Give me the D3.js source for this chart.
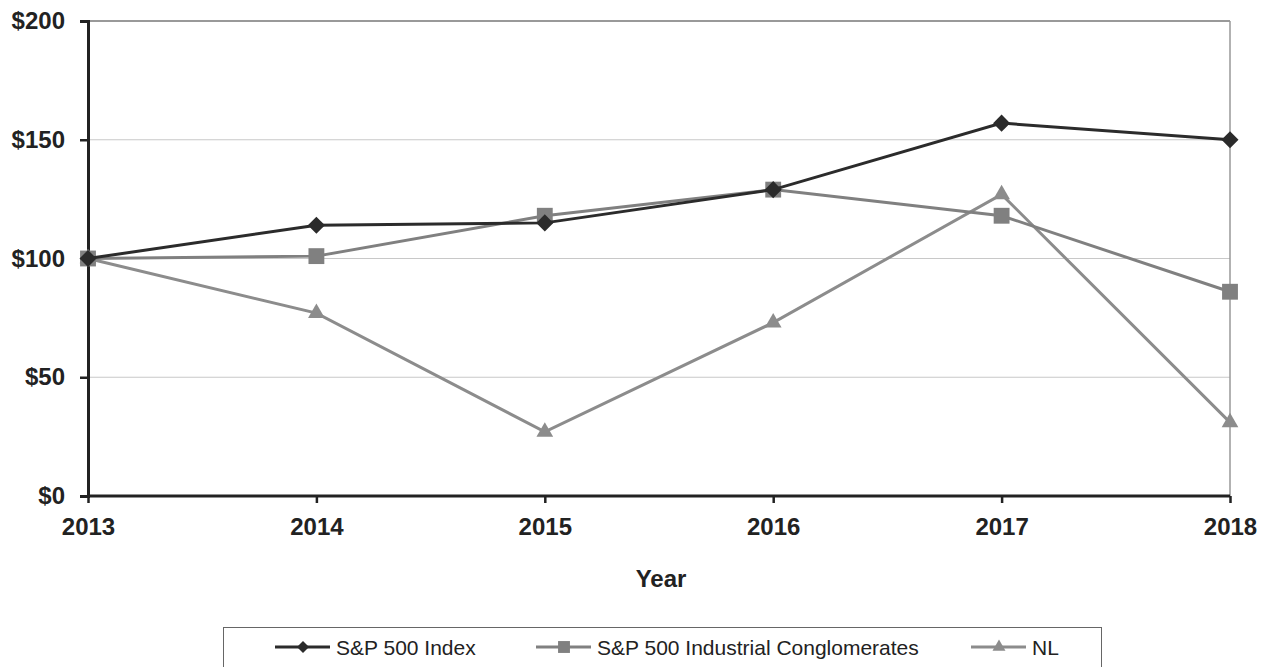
<!DOCTYPE html>
<html>
<head>
<meta charset="utf-8">
<script src="https://cdn.jsdelivr.net/npm/d3@7"></script>
<style>
  body { margin: 0; background: #fff; }
  text { font-family: "Liberation Sans", Arial, sans-serif; }
</style>
</head>
<body>
<div id="chart"></div>
<script>
const years = ["2013", "2014", "2015", "2016", "2017", "2018"];
const sp500 = [100, 114, 115, 129, 157, 150];
const industrial = [100, 101, 118, 129, 118, 86];
const nl = [100, 77, 27, 73, 127, 31];
const yTicks = [0, 50, 100, 150, 200];

const width = 1268;
const height = 667;
const plotLeft = 88, plotRight = 1230, plotTop = 21, plotBottom = 496;

const series = [
  {name: "S&P 500 Index", values: sp500, color: "#2b2b2b", symbol: d3.symbolDiamond2, size: 185, legendSize: 92},
  {name: "S&P 500 Industrial Conglomerates", values: industrial, color: "#808080", symbol: d3.symbolSquare2, size: 320, legendSize: 180},
  {name: "NL", values: nl, color: "#8c8c8c", symbol: d3.symbolTriangle2, size: 200, legendSize: 120}
];

const svg = d3.select("#chart").append("svg")
  .attr("width", width)
  .attr("height", height);

const x = d3.scalePoint().domain(years).range([plotLeft, plotRight]);
const y = d3.scaleLinear().domain([0, 200]).range([plotBottom, plotTop]);

// gridlines
svg.append("g")
  .selectAll("line")
  .data(yTicks.filter(d => d > 0))
  .enter().append("line")
    .attr("x1", plotLeft).attr("x2", plotRight)
    .attr("y1", d => y(d)).attr("y2", d => y(d))
    .attr("stroke", d => d == 200 ? "#777" : "#c8c8c8")
    .attr("stroke-width", d => d == 200 ? 1.5 : 1.2);

// right border
svg.append("line")
  .attr("x1", plotRight).attr("x2", plotRight)
  .attr("y1", plotTop).attr("y2", plotBottom)
  .attr("stroke", "#999").attr("stroke-width", 1.5);

// y axis
const yAxis = svg.append("g")
  .attr("transform", `translate(${plotLeft},0)`)
  .call(d3.axisLeft(y).tickValues(yTicks).tickSize(8).tickPadding(15).tickFormat(d => "$" + d));
yAxis.select(".domain").attr("stroke", "#222").attr("stroke-width", 3);
yAxis.selectAll(".tick line").attr("stroke", "#222").attr("stroke-width", 2.5);
yAxis.selectAll("text")
  .attr("font-size", 24).attr("font-weight", "bold").attr("fill", "#222");

// x axis
const xAxis = svg.append("g")
  .attr("transform", `translate(0,${plotBottom})`)
  .call(d3.axisBottom(x).tickSize(7).tickPadding(15));
xAxis.select(".domain").attr("stroke", "#222").attr("stroke-width", 3).attr("d", `M${plotLeft},0H${plotRight}`);
xAxis.selectAll(".tick line").attr("stroke", "#222").attr("stroke-width", 2.5);
xAxis.selectAll("text")
  .attr("font-size", 24).attr("font-weight", "bold").attr("fill", "#222");

// axis title
svg.append("text")
  .attr("x", (plotLeft + plotRight) / 2 + 2)
  .attr("y", 587)
  .attr("text-anchor", "middle")
  .attr("font-size", 24)
  .attr("font-weight", "bold")
  .attr("fill", "#222")
  .text("Year");

const line = d3.line()
  .x((d, i) => x(years[i]))
  .y(d => y(d));

// draw in reverse so S&P 500 is on top
series.slice().reverse().forEach(s => {
  svg.append("path")
    .datum(s.values)
    .attr("d", line)
    .attr("fill", "none")
    .attr("stroke", s.color)
    .attr("stroke-width", 3);

  svg.append("g").selectAll("path")
    .data(s.values)
    .enter().append("path")
      .attr("transform", (d, i) => `translate(${x(years[i])},${y(d)})`)
      .attr("d", d3.symbol().type(s.symbol).size(s.size))
      .attr("fill", s.color);
});

// legend
svg.append("rect")
  .attr("x", 223.5).attr("y", 627.5)
  .attr("width", 878).attr("height", 60)
  .attr("fill", "none")
  .attr("stroke", "#666")
  .attr("stroke-width", 1);

const legendX = [275, 536, 971];
series.forEach((s, i) => {
  const g = svg.append("g").attr("transform", `translate(${legendX[i]},647)`);
  g.append("line")
    .attr("x1", 0).attr("x2", 55)
    .attr("stroke", s.color).attr("stroke-width", 3);
  g.append("path")
    .attr("transform", "translate(28,0)")
    .attr("d", d3.symbol().type(s.symbol).size(s.legendSize))
    .attr("fill", s.color);
  g.append("text")
    .attr("x", 61)
    .attr("y", 0)
    .attr("dy", "0.36em")
    .attr("font-size", 21)
    .attr("fill", "#222")
    .text(s.name);
});
</script>
</body>
</html>
